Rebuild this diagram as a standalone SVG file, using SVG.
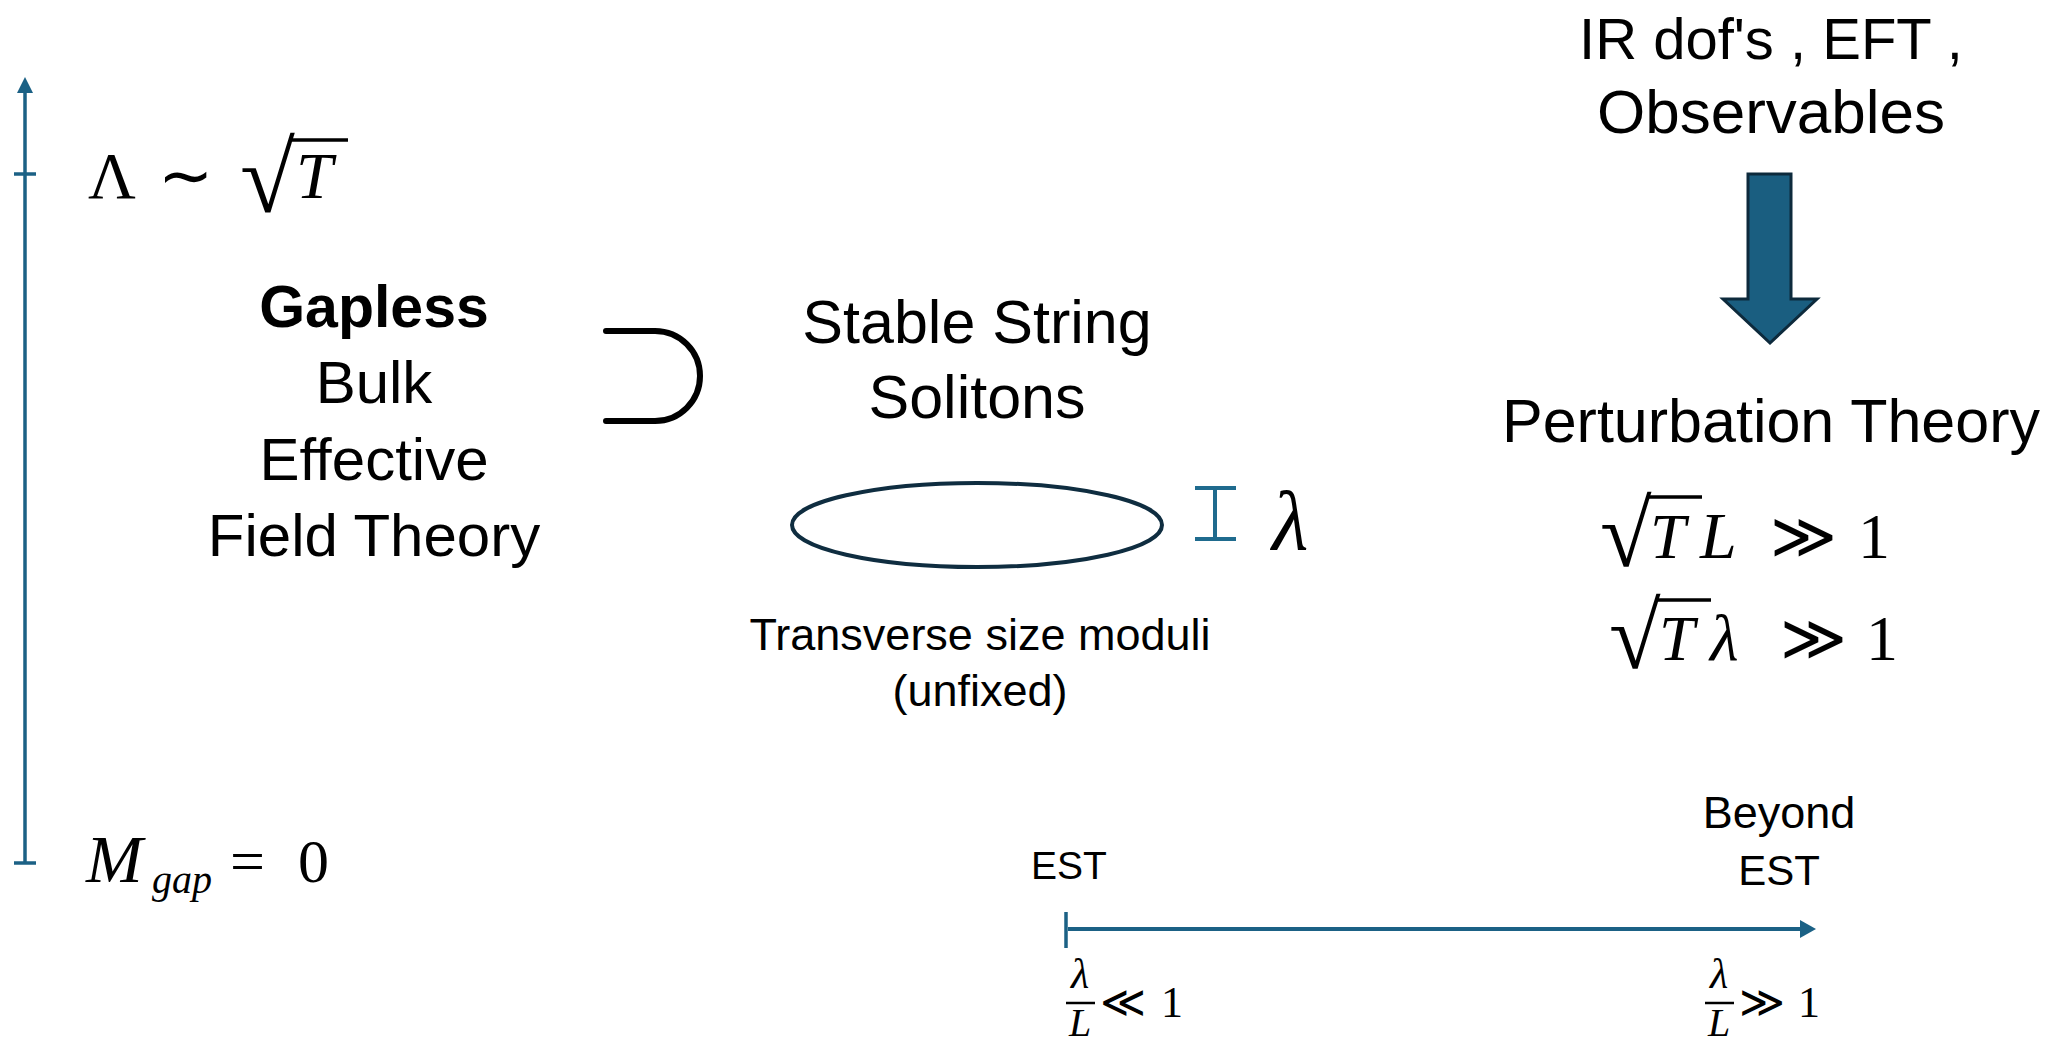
<svg xmlns="http://www.w3.org/2000/svg" width="2050" height="1047" viewBox="0 0 2050 1047">
<style>
.t{font-family:"Liberation Sans",Arial,sans-serif;fill:#000;text-anchor:middle}
.m{font-family:"Liberation Serif","Times New Roman",serif;fill:#000}
.i{font-style:italic}
.ax{stroke:#1b6185;stroke-width:3.5;fill:none}
.vin{stroke:#000;stroke-width:3.5}
</style>
<rect width="2050" height="1047" fill="#fff"/>
<g id="connectors">
<line class="ax" x1="25" y1="863" x2="25" y2="92"/>
<path d="M25,77 L33,93 L17,93 Z" fill="#1b6185"/>
<line class="ax" x1="14" y1="174" x2="36" y2="174"/>
<line class="ax" x1="14" y1="863" x2="36" y2="863"/>
<line class="ax" x1="1066" y1="912" x2="1066" y2="948"/>
<line x1="1068" y1="929" x2="1804" y2="929" stroke="#1b6185" stroke-width="4"/>
<path d="M1816,929 L1800,920 L1800,938 Z" fill="#1b6185"/>
<polygon points="1748,174 1791,174 1791,299 1817,299 1770,343 1723,299 1748,299" fill="#1a5e80" stroke="#0d2a3c" stroke-width="3"/>
</g>
<g id="scale-top">
<text class="m" x="88" y="198" font-size="66">Λ</text>
<text class="m" x="158" y="198" font-size="66">∼</text>
<text class="m" x="240" y="212" font-size="100">√</text>
<line class="vin" x1="290" y1="140" x2="348" y2="140"/>
<text class="m i" x="296" y="198" font-size="66">T</text>
</g>
<g id="scale-bottom">
<text class="m i" x="86" y="882" font-size="68">M</text>
<text class="m i" x="152" y="893" font-size="40">gap</text>
<text class="m" x="230" y="882" font-size="62">=</text>
<text class="m" x="298" y="882" font-size="62">0</text>
</g>
<g id="bulk-eft">
<text class="t" x="374" y="327" font-size="59" font-weight="bold">Gapless</text>
<text class="t" x="374" y="403" font-size="60">Bulk</text>
<text class="t" x="374" y="480" font-size="60">Effective</text>
<text class="t" x="374" y="556" font-size="60">Field Theory</text>
</g>
<g id="supset">
<path d="M606,331 H655 A45,45 0 0 1 655,421 H606" fill="none" stroke="#000" stroke-width="6" stroke-linecap="round"/>
</g>
<g id="solitons">
<text class="t" x="977" y="343" font-size="61">Stable String</text>
<text class="t" x="977" y="418" font-size="61">Solitons</text>
<ellipse cx="977" cy="525" rx="185" ry="42" fill="none" stroke="#0f2d40" stroke-width="4"/>
<g stroke="#1f6b8e" stroke-width="4">
<line x1="1195" y1="488" x2="1236" y2="488"/>
<line x1="1195" y1="539" x2="1236" y2="539"/>
<line x1="1215" y1="488" x2="1215" y2="539"/>
</g>
<text class="m i" x="1272" y="549" font-size="84">λ</text>
<text class="t" x="980" y="650" font-size="45">Transverse size moduli</text>
<text class="t" x="980" y="706" font-size="45">(unfixed)</text>
</g>
<g id="ir-dofs">
<text class="t" x="1771" y="59" font-size="58">IR dof's , EFT ,</text>
<text class="t" x="1771" y="133" font-size="62">Observables</text>
</g>
<g id="perturbation">
<text class="t" x="1771" y="442" font-size="61">Perturbation Theory</text>
<text class="m" x="1600" y="566" font-size="94">√</text>
<line class="vin" x1="1648" y1="497" x2="1702" y2="497"/>
<text class="m i" x="1650" y="558" font-size="64">T</text>
<text class="m i" x="1700" y="558" font-size="66">L</text>
<text class="m" x="1770" y="558" font-size="64">≫</text>
<text class="m" x="1858" y="558" font-size="64">1</text>
<text class="m" x="1609" y="668" font-size="94">√</text>
<line class="vin" x1="1657" y1="600" x2="1711" y2="600"/>
<text class="m i" x="1659" y="660" font-size="64">T</text>
<text class="m i" x="1710" y="660" font-size="66">λ</text>
<text class="m" x="1780" y="660" font-size="64">≫</text>
<text class="m" x="1866" y="660" font-size="64">1</text>
</g>
<g id="est">
<text class="t" x="1069" y="879" font-size="39">EST</text>
<text class="m i" x="1080" y="988" font-size="42" text-anchor="middle">λ</text>
<line x1="1066" y1="1003" x2="1095" y2="1003" stroke="#000" stroke-width="2.5"/>
<text class="m i" x="1080" y="1036" font-size="40" text-anchor="middle">L</text>
<text class="m" x="1100" y="1017" font-size="44">≪</text>
<text class="m" x="1161" y="1017" font-size="44">1</text>
</g>
<g id="beyond-est">
<text class="t" x="1779" y="828" font-size="45">Beyond</text>
<text class="t" x="1779" y="885" font-size="42">EST</text>
<text class="m i" x="1719" y="988" font-size="42" text-anchor="middle">λ</text>
<line x1="1705" y1="1003" x2="1734" y2="1003" stroke="#000" stroke-width="2.5"/>
<text class="m i" x="1719" y="1036" font-size="40" text-anchor="middle">L</text>
<text class="m" x="1739" y="1017" font-size="44">≫</text>
<text class="m" x="1798" y="1017" font-size="44">1</text>
</g>
</svg>
